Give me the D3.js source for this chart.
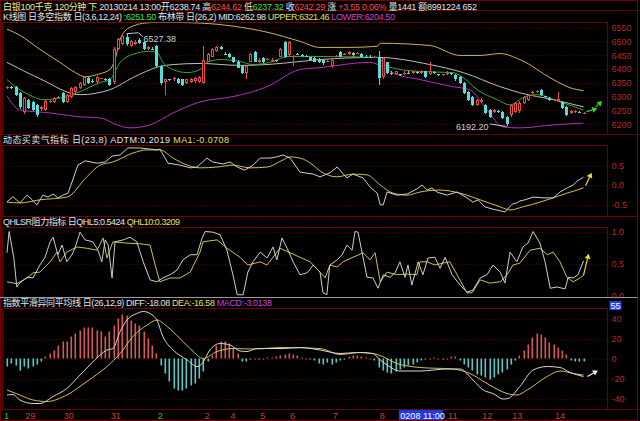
<!DOCTYPE html>
<html>
<head>
<meta charset="utf-8">
<script src="https://cdn.jsdelivr.net/npm/d3@7/dist/d3.min.js"></script>
<style>
html,body{margin:0;padding:0;background:#000;overflow:hidden;}
svg{display:block;}
text{font-family:"Liberation Sans","Noto Sans CJK SC",sans-serif;}
</style>
</head>
<body>
<svg id="chart" width="640" height="421"></svg>
<script>
// ---------------- DATA ----------------
const openP = [
6332,6336,6336,6314,6245,6289,6281,6270,6256,6252,
6281,6281,6298,6314,6281,6300,6318,6332,6343,6369,
6358,6354,6365,6364,6365,6354,6471,6489,6515,6482,
6489,6505,6496,6471,6473,6482,6409,6354,6362,6362,
6365,6362,6351,6354,6356,6354,6351,6427,6445,6464,
6478,6455,6453,6442,6427,6409,6387,6427,6460,6424,
6438,6434,6431,6432,6445,6496,6449,6445,6453,6449,
6447,6442,6438,6434,6431,6427,6409,6445,6460,6451,
6453,6456,6455,6453,6445,6445,6442,6442,6372,6424,
6387,6383,6381,6383,6387,6387,6388,6386,6391,6383,
6389,6381,6380,6383,6384,6380,6372,6351,6318,6300,
6270,6281,6270,6252,6245,6249,6245,6227,6234,6245,
6248,6278,6289,6314,6317,6325,6301,6296,6289,6285,
6281,6263,6241,6243,6246,6238.74];
const highP = [
6340,6340,6340,6318,6300,6292,6285,6274,6267,6289,
6287,6300,6303,6318,6310,6336,6340,6354,6376,6372,
6362,6376,6369,6367,6369,6478,6511,6522,6527.38,6504,
6504,6511,6500,6482,6478,6486,6413,6365,6365,6372,
6369,6365,6365,6369,6372,6376,6482,6456,6475,6482,
6482,6460,6456,6445,6431,6413,6413,6456,6464,6438,
6442,6438,6438,6434,6475,6500,6500,6449,6456,6453,
6449,6445,6442,6438,6434,6431,6438,6449,6464,6458,
6464,6460,6460,6456,6449,6449,6447,6464,6445,6427,
6391,6394,6383,6391,6391,6394,6391,6396,6394,6427,
6391,6383,6383,6391,6387,6383,6376,6354,6321,6303,
6292,6296,6274,6256,6256,6252,6249,6230,6274,6281,
6285,6303,6310,6321,6325,6329,6303,6300,6292,6318,
6285,6267,6252,6252,6249,6244.62];
const lowP = [
6329,6329,6303,6256,6238,6256,6249,6227,6249,6249,
6278,6278,6294,6278,6278,6296,6314,6329,6340,6347,
6351,6351,6362,6358,6340,6347,6467,6485,6482,6478,
6485,6489,6467,6467,6467,6405,6343,6307,6356,6358,
6347,6340,6347,6351,6351,6350,6347,6424,6442,6460,
6467,6449,6438,6420,6402,6383,6362,6424,6424,6420,
6420,6431,6427,6427,6442,6438,6445,6409,6449,6445,
6442,6431,6424,6420,6416,6424,6405,6442,6442,6449,
6449,6445,6453,6442,6440,6438,6438,6343,6365,6383,
6380,6380,6376,6380,6383,6383,6383,6383,6369,6380,
6383,6376,6376,6380,6380,6358,6347,6310,6285,6267,
6267,6278,6238,6223,6241,6241,6219,6192.2,6227,6241,
6241,6274,6285,6310,6314,6303,6296,6285,6285,6281,
6256,6230,6238,6241,6241,6237.32];
const closeP = [
6336,6334,6307,6263,6296,6259,6252,6234,6263,6285,
6283,6296,6300,6281,6307,6332,6336,6351,6372,6351,
6355,6372,6366,6362,6343,6471,6507,6518,6489,6500,
6498,6493,6471,6478,6471,6409,6351,6362,6360,6369,
6351,6343,6362,6365,6369,6372,6434,6453,6471,6478,
6471,6453,6442,6424,6405,6387,6409,6453,6427,6434,
6424,6435,6434,6430,6471,6442,6496,6447,6451,6447,
6445,6434,6427,6424,6420,6428,6434,6446,6445,6454,
6460,6449,6456,6445,6443,6442,6443,6369,6438,6387,
6385,6391,6379,6387,6386,6391,6386,6392,6372,6391,
6387,6379,6381,6387,6383,6362,6351,6314,6289,6270,
6289,6289,6241,6227,6252,6246,6223,6200,6270,6278,
6278,6298,6305,6318,6321,6307,6300,6289,6290,6292,
6259,6234,6249,6248,6244,6242.29];
const macdHist = [
-8,-5,-7,-12,-8,-10,-8,-6,-3,2,
5,8,13,17,17,22,25,28,31,31,
31,28,27,22,27,33,40,44,43,38,
35,33,27,20,13,5,-7,-15,-23,-30,
-32,-32,-30,-27,-25,-20,-13,-3,3,13,
17,17,15,10,5,-3,-3,-1,0,-1,
0,1,1,2,3,4,5,4,3,1,
0,-1,-2,-5,-6,-4,-6,-4,-2,-1,
2,3,3,2,1,0,-2,-9,-12,-14,
-15,-13,-11,-9,-7,-6,-4,-2,-1,0,
1,0,-1,0,2,2,-2,-6,-9,-12,
-16,-17,-19,-21,-19,-16,-14,-11,-6,-2,
3,8,14,21,25,24,21,16,14,11,
8,4,-2,-3,-3,-3];
// indicator lines: [bar index, value]
const upperBand = [[0,6544],[3,6522],[7.7,6471],[12.4,6424],[16,6387],[18.3,6372],[21.8,6383],[24.1,6398],[25.3,6434],[26.5,6507],[27.6,6537],[30,6558],[32.3,6566],[35.8,6569],[45.2,6566],[52.9,6555],[60.9,6533],[68.6,6500],[73.3,6478],[80,6478],[86.7,6482],[87.4,6493],[99,6485],[106.1,6449],[110.8,6449],[115.5,6456],[120.1,6434],[127.9,6362],[131.9,6332],[135,6321.46]];
const midBand = [[0,6424],[7.7,6365],[17.1,6307],[24.1,6325],[29.5,6369],[35.8,6409],[38.9,6416],[45.2,6420],[54.6,6413],[60.9,6416],[68.6,6427],[73.3,6434],[86.7,6442],[99,6416],[106.8,6387],[115.5,6336],[120.1,6314],[127.9,6289],[135,6262.98]];
const lowerBand = [[0,6303],[3,6252],[10.1,6241],[17.1,6227],[21.8,6223],[25.8,6198],[28.8,6187],[33.5,6198],[38.9,6241],[45.2,6281],[52.9,6300],[60.9,6336],[68.6,6398],[73.3,6405],[85,6424],[86.9,6416],[91.3,6380],[96.7,6362],[104.4,6336],[108.4,6325],[112.4,6252],[116.2,6190],[120.1,6187],[127.9,6198],[135,6204.5]];
const bbiLine = [[0,6362],[1.4,6343],[6.1,6300],[8.4,6289],[14,6300],[17.1,6318],[21.8,6351],[24.1,6362],[26.5,6424],[29.5,6453],[33.5,6464],[35.1,6460],[36.5,6424],[38.9,6398],[42.2,6387],[45.2,6398],[46.8,6424],[49.9,6434],[54.6,6427],[57.6,6416],[62.3,6427],[65.6,6445],[73.3,6445],[86.7,6442],[89,6409],[96.7,6391],[104.4,6387],[106.8,6369],[110.1,6325],[114.8,6289],[117.8,6270],[120.8,6296],[124.1,6307],[129.5,6281],[135,6251.5]];
const adtmLine = [[0,-0.43],[1.4,-0.30],[3,-0.46],[4.7,-0.26],[5.9,-0.38],[7,-0.51],[8.4,-0.26],[9.6,-0.31],[10.8,-0.23],[11.9,-0.33],[13.1,-0.26],[14.3,-0.21],[16.6,0.51],[18.3,0.62],[21.1,0.56],[23,0.59],[24.6,0.74],[26.5,0.77],[28.3,0.95],[31.1,0.95],[33.5,0.92],[35.1,0.90],[35.8,0.92],[37.7,0.56],[40.5,0.51],[42.9,0.44],[44.5,0.46],[46.8,0.69],[48.2,0.59],[50.6,0.54],[52.2,0.59],[53.9,0.46],[55.7,0.38],[57.6,0.51],[59.3,0.69],[61.6,0.69],[63.2,0.72],[64.6,0.77],[66.3,0.69],[68.6,0.33],[71.7,0.28],[73.3,0.21],[75.6,0.31],[77.3,0.46],[79.6,0.18],[81,0.28],[83.4,0.18],[85,-0.05],[86.7,-0.21],[87.4,-0.51],[88.1,-0.51],[89,-0.18],[91.3,-0.26],[93.7,-0.23],[96,-0.10],[97.2,0.0],[98.4,-0.13],[99.5,-0.08],[100.7,-0.18],[103,-0.26],[105.4,-0.18],[107.7,-0.33],[109.1,-0.44],[110.3,-0.38],[111.9,-0.56],[113.8,-0.62],[116.6,-0.69],[118.3,-0.49],[119.4,-0.46],[120.1,-0.41],[121.3,-0.38],[123.2,-0.31],[125.5,-0.33],[127.9,-0.33],[129.5,-0.18],[131.1,-0.08],[132.6,0.0],[133.5,0.10],[135,0.2019]];
const adtmMa = [[0,-0.44],[3,-0.46],[7.7,-0.38],[14,-0.31],[18.7,0.21],[21.8,0.51],[24.8,0.59],[29.5,0.82],[32.8,0.90],[35.8,0.90],[38.9,0.69],[42.2,0.51],[45.2,0.44],[49.2,0.46],[52.9,0.51],[56.9,0.44],[60.9,0.46],[64.6,0.64],[66.3,0.72],[68.6,0.69],[71.7,0.51],[73.3,0.36],[77.3,0.21],[81,0.28],[84.3,0.26],[87.4,0.0],[90.4,-0.21],[93.7,-0.26],[96.7,-0.18],[101.4,-0.13],[106.1,-0.21],[110.8,-0.38],[115.5,-0.56],[117.8,-0.64],[120.8,-0.56],[124.8,-0.44],[127.9,-0.33],[131.1,-0.21],[133.5,-0.13],[135,-0.0708]];
const qhl5 = [[0,0.67],[0.5,1.0],[1.6,0.59],[2.3,0.14],[3,0.20],[4.7,0.29],[6.1,0.28],[7.7,0.48],[8.9,0.60],[10.1,0.84],[10.8,0.91],[11.9,0.64],[12.9,0.79],[14,0.53],[15.2,0.64],[15.9,0.74],[17.1,0.99],[18.3,0.87],[20.1,0.84],[21.3,0.71],[22.2,0.53],[23,0.87],[23.7,0.79],[24.6,0.28],[25.3,0.84],[27.2,0.87],[28.8,0.91],[30.4,0.84],[31.9,0.53],[33.5,0.25],[35.1,0.22],[36.5,0.28],[38.2,0.33],[39.8,0.40],[41.2,0.56],[42.9,0.64],[44.5,0.64],[45.7,0.90],[46.4,1.0],[48.2,0.99],[49.9,0.95],[51.5,0.71],[52.9,0.33],[53.9,0.02],[55.3,0.02],[56.4,0.37],[57.6,0.53],[59.3,0.68],[60.9,0.59],[62.3,0.76],[63.2,0.56],[64.4,0.90],[65.6,0.74],[67,0.53],[68.6,0.33],[70.3,0.36],[71.7,0.48],[73.3,0.37],[74,0.05],[74.9,0.02],[75.6,0.48],[77.3,0.56],[78.5,0.64],[79.6,0.79],[80.8,0.71],[81.5,1.0],[82.2,0.99],[83.4,0.59],[84.3,0.29],[85.7,0.28],[86.9,0.12],[88.1,0.33],[89.7,0.29],[90.9,0.36],[92,0.53],[93.2,0.29],[93.9,0.48],[94.8,0.17],[96.3,0.53],[97.4,0.33],[98.6,0.59],[100.2,0.60],[101.4,0.43],[102.6,0.60],[104.2,0.33],[106.1,0.17],[107.7,0.06],[109.1,0.09],[110.8,0.28],[112.4,0.33],[113.8,0.48],[115.5,0.37],[116.6,0.20],[117.8,0.68],[119.4,0.53],[120.8,0.76],[122,0.82],[123.2,1.0],[124.8,0.82],[126,0.53],[127.2,0.12],[128.8,0.14],[130.7,0.11],[131.4,0.29],[132.6,0.28],[133.7,0.33],[135,0.5424]];
const qhl10 = [[0,0.22],[2.3,0.19],[4.7,0.28],[6.1,0.36],[7.7,0.37],[10.1,0.53],[11.7,0.68],[12.4,0.53],[14,0.68],[16.4,0.76],[18.7,0.74],[21.1,0.71],[22.5,0.90],[23.4,0.59],[24.8,0.84],[28.1,0.82],[31.1,0.81],[33.5,0.79],[34.7,0.48],[35.8,0.22],[38.2,0.28],[40.5,0.28],[42.9,0.37],[45.2,0.68],[45.9,0.84],[49.2,0.87],[51.5,0.74],[54.6,0.60],[56.4,0.48],[59.3,0.53],[60.9,0.48],[63.9,0.74],[66.3,0.67],[68.6,0.60],[71,0.53],[73.3,0.37],[74.5,0.28],[75.6,0.48],[77.3,0.45],[78.7,0.53],[81,0.60],[83.4,0.67],[85,0.56],[86.2,0.67],[87.4,0.22],[89,0.37],[91.3,0.33],[93.7,0.34],[96,0.33],[96.7,0.53],[98.4,0.53],[100.2,0.48],[102.1,0.51],[103.7,0.53],[105.4,0.33],[107.7,0.05],[108.9,0.05],[110.8,0.25],[113.1,0.20],[115.5,0.22],[117.1,0.33],[118.5,0.48],[120.1,0.51],[122.5,0.71],[124.8,0.74],[126.5,0.64],[127.9,0.68],[129.5,0.53],[131.1,0.29],[132.6,0.22],[134.2,0.28],[135,0.3209]];
const diffLine = [[0,-36.5],[1.4,-36],[3,-41.5],[6.1,-45],[7.7,-45],[10.8,-38],[14,-30],[17.1,-16.5],[19.4,-6.5],[21.8,3.5],[23.4,8.5],[24.8,10],[26.5,27],[28.1,38.5],[30.4,45],[31.9,47],[34.2,43],[35.1,38.5],[36.5,22],[38.9,8.5],[42.2,-1.5],[44.5,-8],[45.7,-5],[47.5,8.5],[49.9,15],[52.2,13.5],[54.6,7.5],[56.2,7],[58.5,10],[64.6,10],[68.6,11],[73.3,8.5],[78,5],[82,6],[85.7,5],[87.4,-1.5],[89,-6.5],[92,-12.5],[96.7,-12.5],[103,-10.5],[106.1,-10.5],[109.1,-21.5],[111.5,-31.5],[113.8,-35],[116.2,-40.5],[117.3,-40],[120.1,-28],[123.2,-11.5],[126.5,-8],[129.5,-9],[131.9,-14],[135,-18.08]];
const deaLine = [[0,-31.5],[3,-36.5],[6.1,-41.5],[9.4,-43],[14,-36.5],[18.7,-23],[23.4,-8],[26.5,5],[29.5,22],[32.8,33.5],[35.1,38.5],[37.5,32],[40.5,20],[43.6,7],[45.9,0],[49.2,7],[52.9,10],[57.6,9.5],[64.6,11],[73.3,10],[78,4],[82.7,6],[86.7,4],[91.3,-5],[96.7,-9],[104.4,-10.5],[108.4,-15],[112.4,-25],[117.1,-35],[119.4,-36.5],[121.8,-31.5],[126.5,-18],[129.5,-12.5],[132.6,-15],[135,-16.58]];
// axes / labels
const mainTicks = [6550,6500,6450,6400,6350,6300,6250,6200];
const adtmTicks = [0.5,0,-0.5];
const qhlTicks = [1,0.5,0];
const macdTicks = [40,20,0,-20,-40];
const macdTopLabel = 55;
const dateLabels = ["1","29","30","31","2","2","4","5","6","7","8","11","12","13","14"];
const dateIdx   = [0,5,14,25,36,47,53,60,67,77,88,104,112,119,129];
const dateIsMonth = [1,0,0,0,1,0,0,0,0,0,0,0,0,0,0];
const cursorLabel = "0208 11:00";
const cursorIdx = 92;

// ---------------- DRAW ----------------
const svg = d3.select('#chart');
const N = closeP.length;
const x = d3.scaleLinear().domain([0, N - 1]).range([7, 583.5]);
const PL = 2.5, PR = 607.5, RX = 637.5;
const frameC = '#700000', gridC = '#5c0000', axisC = '#b42828';
const redC = '#ec4646', cyanC = '#58dcdc';

const yMain = d3.scaleLinear().domain([6200, 6550]).range([124.3, 27.5]);
const yAdtm = d3.scaleLinear().domain([-0.5, 0.5]).range([204.5, 165.5]);
const yQhl  = d3.scaleLinear().domain([0, 1]).range([296, 231.5]);
const yMacd = d3.scaleLinear().domain([-40, 40]).range([398.5, 318.5]);

const f1 = v => v.toFixed(1);
const f0 = v => String(v);
const panels = [
  {id:'main', top:22.5,  bottom:134.5, y:yMain, ticks:mainTicks, fmt:f0},
  {id:'adtm', top:145.5, bottom:216.5, y:yAdtm, ticks:adtmTicks, fmt:f1},
  {id:'qhl',  top:227.5, bottom:297.5, y:yQhl,  ticks:qhlTicks,  fmt:f1},
  {id:'macd', top:308.5, bottom:409.5, y:yMacd, ticks:macdTicks, fmt:f0}
];

svg.append('rect').attr('width',640).attr('height',421).attr('fill','#000');
const defs = svg.append('defs');
panels.forEach(p => {
  defs.append('clipPath').attr('id','clip-'+p.id).append('rect')
    .attr('x',PL).attr('y',p.top).attr('width',PR-PL).attr('height',p.bottom-p.top);
  defs.append('clipPath').attr('id','aclip-'+p.id).append('rect')
    .attr('x',PR).attr('y',p.top - 6).attr('width',RX-PR).attr('height',p.bottom-p.top+6);
});

// frame
const fr = svg.append('g').attr('fill','none').attr('stroke',frameC).attr('stroke-width',1);
fr.append('rect').attr('x',0.5).attr('y',0.5).attr('width',637).attr('height',420);
fr.append('line').attr('x1',0).attr('x2',RX).attr('y1',10.5).attr('y2',10.5);
[134.5,216.5,409.5].forEach(yy => fr.append('line').attr('x1',0).attr('x2',RX).attr('y1',yy).attr('y2',yy));
fr.append('line').attr('x1',RX).attr('x2',RX).attr('y1',0).attr('y2',421);
panels.forEach(p => {
  fr.append('rect').attr('x',PL).attr('y',p.top).attr('width',PR-PL).attr('height',p.bottom-p.top);
});

// grid + axes
panels.forEach(p => {
  const g = svg.append('g');
  p.ticks.forEach(t => {
    const yy = Math.round(p.y(t)) + 0.5;
    if (yy > p.top + 1 && yy < p.bottom - 1)
      g.append('line').attr('x1',PL).attr('x2',PR).attr('y1',yy).attr('y2',yy)
        .attr('stroke',gridC).attr('stroke-dasharray','1,2');
  });
  const ax = d3.axisRight(p.y).tickValues(p.ticks).tickSize(0).tickPadding(3).tickFormat(p.fmt);
  const ag = svg.append('g').attr('clip-path',`url(#aclip-${p.id})`)
    .append('g').attr('transform',`translate(${PR+1},0)`).call(ax);
  ag.select('.domain').remove();
  ag.selectAll('text').attr('fill',axisC).attr('font-size',9)
    .attr('font-family','"Liberation Sans",sans-serif');
});
svg.append('line').attr('x1',0).attr('x2',RX).attr('y1',297.5).attr('y2',297.5)
  .attr('stroke','#9a9a9a').attr('stroke-width',1);

// MACD top marker
const m55 = yMacd(macdTopLabel) + 1.5;
svg.append('rect').attr('x',PR+2).attr('y',m55-4).attr('width',12).attr('height',9).attr('fill','#1f3cf0');
svg.append('text').attr('x',PR+3).attr('y',m55+3.5).attr('fill','#fff').attr('font-size',9).text(String(macdTopLabel));

// ---- main panel ----
const gm = svg.append('g').attr('clip-path','url(#clip-main)');
const curve = d3.curveMonotoneX;
const lineFn = (ys, c) => d3.line().x(d => x(d[0])).y(d => ys(d[1])).curve(c || d3.curveLinear);
gm.append('path').datum(upperBand).attr('d',lineFn(yMain,curve)).attr('fill','none').attr('stroke','#c4b85a');
gm.append('path').datum(midBand).attr('d',lineFn(yMain,curve)).attr('fill','none').attr('stroke','#bdbdbd');
gm.append('path').datum(lowerBand).attr('d',lineFn(yMain,curve)).attr('fill','none').attr('stroke','#b030c0');
gm.append('path').datum(bbiLine).attr('d',lineFn(yMain,curve)).attr('fill','none').attr('stroke','#2fae2f');

const bars = d3.range(N).map(i => ({i, o:openP[i], h:highP[i], l:lowP[i], c:closeP[i]}));
const cg = gm.append('g');
bars.forEach(b => {
  const cx = Math.round(x(b.i));
  const up = b.c >= b.o;
  const col = up ? redC : cyanC;
  const yTop = Math.round(yMain(Math.max(b.o,b.c)));
  const yBot = Math.round(yMain(Math.min(b.o,b.c)));
  const yH = Math.round(yMain(b.h)), yL = Math.round(yMain(b.l));
  cg.append('line').attr('x1',cx+0.5).attr('x2',cx+0.5).attr('y1',yH).attr('y2',yTop).attr('stroke',col);
  cg.append('line').attr('x1',cx+0.5).attr('x2',cx+0.5).attr('y1',yBot).attr('y2',yL).attr('stroke',col);
  if (yBot - yTop < 2) {
    cg.append('line').attr('x1',cx-1).attr('x2',cx+2).attr('y1',yTop+0.5).attr('y2',yTop+0.5).attr('stroke',col);
  } else if (up) {
    cg.append('rect').attr('x',cx-0.5).attr('y',yTop+0.5).attr('width',2).attr('height',yBot-yTop-1)
      .attr('fill','#000').attr('stroke',col);
  } else {
    cg.append('rect').attr('x',cx-1).attr('y',yTop).attr('width',3).attr('height',yBot-yTop).attr('fill',col);
  }
});

// high / low annotations
const hiI = d3.maxIndex(highP), loI = d3.minIndex(lowP);
const hx = x(hiI), hy = yMain(highP[hiI]);
svg.append('polyline').attr('points',`${hx},${hy} ${hx+12},${hy-1} ${hx+16},${hy+3}`)
  .attr('fill','none').attr('stroke','#c8c8c8');
svg.append('text').attr('x',hx+17).attr('y',hy+8).attr('fill','#cfcfcf').attr('font-size',9).text(highP[hiI].toFixed(2));
const lx = x(loI), ly = yMain(lowP[loI]);
svg.append('line').attr('x1',lx).attr('y1',ly).attr('x2',lx-17).attr('y2',ly-2.5).attr('stroke','#c8c8c8');
svg.append('text').attr('x',lx-18).attr('y',ly+4).attr('text-anchor','end').attr('fill','#cfcfcf').attr('font-size',9).text(lowP[loI].toFixed(2));

// arrow helper
function arrow(x0,y0,x1,y1,col,size){
  const a = Math.atan2(y1-y0,x1-x0), s = size||5;
  svg.append('line').attr('x1',x0).attr('y1',y0).attr('x2',x1).attr('y2',y1).attr('stroke',col).attr('stroke-width',1.2);
  const p1 = [x1 + s*Math.cos(a), y1 + s*Math.sin(a)];
  const p2 = [x1 + s*0.6*Math.cos(a+Math.PI/2), y1 + s*0.6*Math.sin(a+Math.PI/2)];
  const p3 = [x1 + s*0.6*Math.cos(a-Math.PI/2), y1 + s*0.6*Math.sin(a-Math.PI/2)];
  svg.append('path').attr('d',`M${p1}L${p2}L${p3}Z`).attr('fill',col);
}
const lastX = x(N-1);
arrow(lastX+3, yMain(6246), lastX+9, yMain(6252), '#3ad23a', 5);
arrow(lastX+12, yMain(6262), lastX+15, yMain(6272), '#3ad23a', 5);

// ---- ADTM ----
const ga = svg.append('g').attr('clip-path','url(#clip-adtm)');
ga.append('path').datum(adtmMa).attr('d',lineFn(yAdtm,curve)).attr('fill','none').attr('stroke','#c8c44e');
ga.append('path').datum(adtmLine).attr('d',lineFn(yAdtm)).attr('fill','none').attr('stroke','#cfcfcf');
arrow(lastX+2, yAdtm(-0.02), lastX+6, yAdtm(0.2), '#e8e030', 5);

// ---- QHLSR ----
const gq = svg.append('g').attr('clip-path','url(#clip-qhl)');
gq.append('path').datum(qhl10).attr('d',lineFn(yQhl)).attr('fill','none').attr('stroke','#c8c44e');
gq.append('path').datum(qhl5).attr('d',lineFn(yQhl)).attr('fill','none').attr('stroke','#cfcfcf');
arrow(lastX, yQhl(0.32), lastX+4, yQhl(0.58), '#e8e030', 5);

// ---- MACD ----
const gmc = svg.append('g').attr('clip-path','url(#clip-macd)');
macdHist.forEach((v,i) => {
  const y0 = yMacd(0), y1 = yMacd(v);
  gmc.append('rect').attr('x',Math.round(x(i))-0.5).attr('width',1.6)
    .attr('y',Math.min(y0,y1)).attr('height',Math.max(1,Math.abs(y1-y0)))
    .attr('fill', v >= 0 ? '#d45a5a' : '#5cc8c8');
});
gmc.append('path').datum(deaLine).attr('d',lineFn(yMacd,curve)).attr('fill','none').attr('stroke','#c8c44e');
gmc.append('path').datum(diffLine).attr('d',lineFn(yMacd,curve)).attr('fill','none').attr('stroke','#d8d8d8');
arrow(lastX+4, yMacd(-18), lastX+10, yMacd(-14.5), '#f0f0f0', 5);

// ---- date axis ----
const dg = svg.append('g').attr('font-size',9);
dateLabels.forEach((t,k) => {
  dg.append('text').attr('x',x(dateIdx[k])-3).attr('y',419)
    .attr('fill', dateIsMonth[k] ? '#2ec02e' : '#d03a3a').text(t);
});
const cxp = x(cursorIdx) - 1;
dg.append('rect').attr('x',cxp).attr('y',410).attr('width',44).attr('height',10).attr('fill','#2238e0');
dg.append('text').attr('x',cxp+1.5).attr('y',418.5).attr('fill','#fff').text(cursorLabel);

// ---- header texts ----
function header(yb, len, parts){
  const t = svg.append('text').attr('x',3).attr('y',yb).attr('font-size',9)
    .attr('textLength',len).attr('lengthAdjust','spacing');
  parts.forEach(p => t.append('tspan').attr('fill',p[1]).text(p[0]));
}
const W1='#e6e6e6', RD='#ff4a4a', GR='#3ee03e', YL='#e6e05a', MG='#d040d0';
header(9.5, 474, [["白银100千克 120分钟 下 ", '#ecec9a'],["20130214 13:00开6238.74 高",W1],["6244.62",RD],[" 低",W1],["6237.32",GR],[" 收",W1],["6242.29",RD],[" 涨 ",W1],["+3.55 0.06%",RD],[" 量1441 额8991224 652",W1]]);
header(20, 392, [["K线图 日多空指数 日(3,6,12,24) ",W1],[":6251.50",GR],[" 布林带 日(26,2) MID:6262.98 ",W1],["UPPER:6321.46",YL],[" LOWER:6204.50",MG]]);
header(143, 226, [["动态买卖气指标 日(23,8) ADTM:0.2019 ",W1],["MA1:-0.0708",YL]]);
header(225, 177, [["QHLSR阻力指标 日QHL5:0.5424 ",W1],["QHL10:0.3209",YL]]);
header(306, 269, [["指数平滑异同平均线 日(26,12,9) DIFF:-18.08 ",W1],["DEA:-16.58",YL],[" MACD:-3.0138",MG]]);
</script>
</body>
</html>
